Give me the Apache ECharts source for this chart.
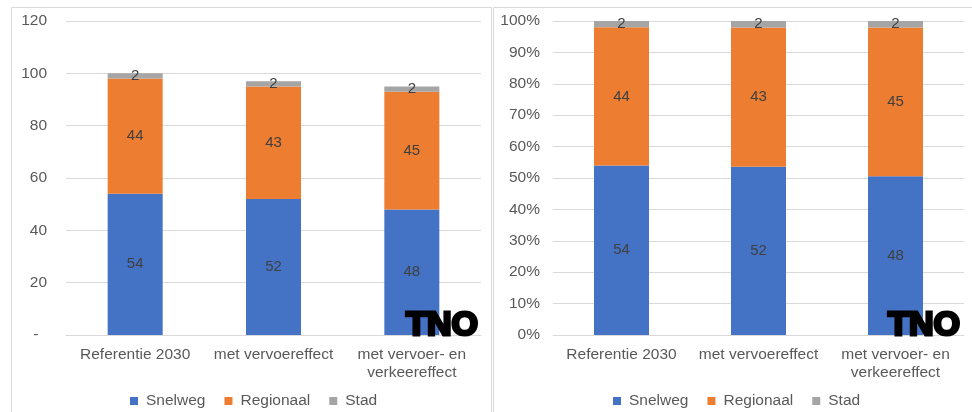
<!DOCTYPE html>
<html>
<head>
<meta charset="utf-8">
<script src="https://cdn.jsdelivr.net/npm/echarts@6/dist/echarts.min.js"></script>
<style>
  html, body { margin: 0; padding: 0; background: #fff; }
  #chart { width: 972px; height: 412px; }
</style>
</head>
<body>
<div id="chart"></div>
<script>
var categories = ['Referentie 2030', 'met vervoereffect', 'met vervoer- en\nverkeereffect'];
var seriesNames = ['Snelweg', 'Regionaal', 'Stad'];
var snelweg = [54, 52, 48];
var regionaal = [44, 43, 45];
var stad = [2, 2, 2];
var leftTicks = [0, 20, 40, 60, 80, 100, 120];

var colors = ['#4472C4', '#ED7D31', '#A5A5A5'];
var font = 'Liberation Sans, Arial, sans-serif';
var labelColor = '#595959';
var grid = '#d9d9d9';

var values = [snelweg, regionaal, stad];
var totals = categories.map(function (c, i) { return snelweg[i] + regionaal[i] + stad[i]; });

var chart = echarts.init(document.getElementById('chart'), null, { renderer: 'canvas' });

function xAxis(gi) {
  return {
    type: 'category', gridIndex: gi, data: categories,
    axisLine: { lineStyle: { color: grid } },
    axisTick: { show: false },
    axisLabel: { color: labelColor, fontFamily: font, fontSize: 15.5, margin: 11, lineHeight: 18, interval: 0 }
  };
}

var series = [];
seriesNames.forEach(function (name, k) {
  // absolute stack (left)
  series.push({
    name: name, type: 'bar', stack: 'abs', xAxisIndex: 0, yAxisIndex: 0,
    data: values[k], barWidth: 55,
    itemStyle: { color: colors[k] },
    label: { show: true, position: 'inside', color: '#404040', fontFamily: font, fontSize: 15 }
  });
  // 100% stack (right)
  series.push({
    name: name, type: 'bar', stack: 'pct', xAxisIndex: 1, yAxisIndex: 1,
    data: values[k].map(function (v, i) { return { value: v / totals[i], raw: v }; }),
    barWidth: 55,
    itemStyle: { color: colors[k] },
    label: {
      show: true, position: 'inside', color: '#404040', fontFamily: font, fontSize: 15,
      formatter: function (p) { return p.data.raw; }
    }
  });
});

function legend(x) {
  return {
    data: seriesNames, left: x, top: 388, icon: 'rect',
    itemWidth: 8, itemHeight: 8, itemGap: 19,
    textStyle: { color: labelColor, fontFamily: font, fontSize: 15.5, padding: [0, 0, 0, 3] }
  };
}

chart.setOption({
  animation: false,
  color: colors,
  legend: [legend(125), legend(608)],
  grid: [
    { left: 66, top: 21, width: 415, height: 314 },
    { left: 553, top: 21, width: 411, height: 314 }
  ],
  xAxis: [xAxis(0), xAxis(1)],
  yAxis: [
    {
      type: 'value', gridIndex: 0, min: leftTicks[0], max: leftTicks[leftTicks.length - 1], interval: 20,
      axisLine: { show: false }, axisTick: { show: false },
      splitLine: { lineStyle: { color: grid } },
      axisLabel: {
        color: labelColor, fontFamily: font, fontSize: 15.5, margin: 19,
        formatter: function (v) { return v === 0 ? '-  ' : v; }
      }
    },
    {
      type: 'value', gridIndex: 1, min: 0, max: 1, interval: 0.1,
      axisLine: { show: false }, axisTick: { show: false },
      splitLine: { lineStyle: { color: grid } },
      axisLabel: {
        color: labelColor, fontFamily: font, fontSize: 15.5, margin: 13,
        formatter: function (v) { return Math.round(v * 100) + '%'; }
      }
    }
  ],
  series: series,
  graphic: [
    { type: 'rect', silent: true, shape: { x: 11.5, y: 7.5, width: 480, height: 410 },
      style: { fill: null, stroke: grid, lineWidth: 1 } },
    { type: 'rect', silent: true, shape: { x: 493.5, y: 7.5, width: 490, height: 410 },
      style: { fill: null, stroke: grid, lineWidth: 1 } },
    { type: 'text', z: 100, style: { text: 'TNO', x: 442, y: 326, align: 'center', verticalAlign: 'middle',
      font: 'bold 34px Liberation Sans', fill: '#000', stroke: '#000', lineWidth: 3 } },
    { type: 'text', z: 100, style: { text: 'TNO', x: 924, y: 326, align: 'center', verticalAlign: 'middle',
      font: 'bold 34px Liberation Sans', fill: '#000', stroke: '#000', lineWidth: 3 } }
  ]
});
window.addEventListener('resize', function () { chart.resize(); });
</script>
</body>
</html>
